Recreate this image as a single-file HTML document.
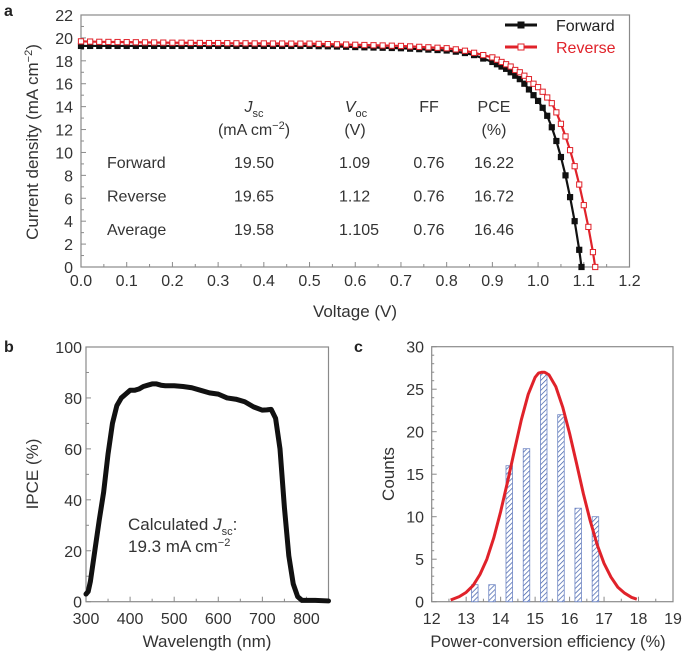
<!DOCTYPE html>
<html><head><meta charset="utf-8"><style>
body{margin:0;background:#fff;}
svg{display:block;font-family:"Liberation Sans",sans-serif;}
</style></head><body>
<svg id="fig" width="685" height="656" viewBox="0 0 685 656" xmlns="http://www.w3.org/2000/svg">
<defs>
<pattern id="hatch" patternUnits="userSpaceOnUse" width="3.5" height="3.5" patternTransform="rotate(45)">
<rect width="3.5" height="3.5" fill="#fff"/><line x1="0" y1="0" x2="0" y2="3.5" stroke="#3a5aa8" stroke-width="1.4"/>
</pattern>
</defs>
<g id="pa"></g>
<g id="pb"></g>
<g id="pc"></g>
</svg>
<script>
// Panel a data
const fwdV=[0,0.02,0.04,0.06,0.08,0.1,0.12,0.14,0.16,0.18,0.2,0.22,0.24,0.26,0.28,0.3,0.32,0.34,0.36,0.38,0.4,0.42,0.44,0.46,0.48,0.5,0.52,0.54,0.56,0.58,0.6,0.62,0.64,0.66,0.68,0.7,0.72,0.74,0.76,0.78,0.8,0.82,0.84,0.86,0.88,0.9,0.91,0.92,0.93,0.94,0.95,0.96,0.97,0.98,0.99,1.0,1.01,1.02,1.03,1.04,1.05,1.06,1.07,1.08,1.09,1.095];
const fwdJ=[19.3,19.3,19.3,19.3,19.3,19.3,19.3,19.3,19.3,19.3,19.3,19.3,19.3,19.3,19.3,19.3,19.3,19.3,19.3,19.3,19.3,19.3,19.3,19.3,19.3,19.3,19.28,19.27,19.25,19.23,19.2,19.18,19.16,19.14,19.12,19.1,19.06,19.02,18.98,18.94,18.9,18.8,18.68,18.5,18.2,17.9,17.7,17.5,17.3,17.0,16.7,16.4,16.0,15.5,15.0,14.5,13.9,13.2,12.2,11.0,9.6,8.0,6.1,4.0,1.5,0];
const revV=[0,0.02,0.04,0.06,0.08,0.1,0.12,0.14,0.16,0.18,0.2,0.22,0.24,0.26,0.28,0.3,0.32,0.34,0.36,0.38,0.4,0.42,0.44,0.46,0.48,0.5,0.52,0.54,0.56,0.58,0.6,0.62,0.64,0.66,0.68,0.7,0.72,0.74,0.76,0.78,0.8,0.82,0.84,0.86,0.88,0.9,0.91,0.92,0.93,0.94,0.95,0.96,0.97,0.98,0.99,1.0,1.01,1.02,1.03,1.04,1.05,1.06,1.07,1.08,1.09,1.1,1.11,1.12,1.125];
const revJ=[19.7,19.68,19.66,19.65,19.64,19.63,19.62,19.61,19.6,19.59,19.58,19.58,19.57,19.56,19.55,19.55,19.54,19.53,19.53,19.52,19.52,19.51,19.51,19.5,19.5,19.5,19.48,19.46,19.44,19.42,19.4,19.38,19.36,19.34,19.32,19.3,19.26,19.22,19.18,19.14,19.1,19.0,18.88,18.7,18.5,18.3,18.1,17.9,17.7,17.5,17.2,17.0,16.7,16.4,16.0,15.7,15.3,14.8,14.3,13.5,12.5,11.4,10.2,8.8,7.2,5.4,3.5,1.3,0];
const aXTicks=["0.0","0.1","0.2","0.3","0.4","0.5","0.6","0.7","0.8","0.9","1.0","1.1","1.2"];
const aYTicks=[0,2,4,6,8,10,12,14,16,18,20,22];
// Panel b data
const wl=[300,305,310,320,330,340,350,360,370,380,390,400,410,420,430,440,450,460,470,480,500,520,540,560,580,600,620,640,660,680,700,710,720,730,740,750,760,770,780,790,800,820,850];
const ipce=[3,4,8,20,32,43,58,70,77,80,81.5,83,83,83.5,84.5,85,85.5,85.5,85,84.8,84.8,84.5,84,83,82,81.5,80,79.5,78.5,76.5,75.2,75.3,75.5,72,60,37,18,7,2,0.5,0.5,0.5,0.3];
const bXTicks=[300,400,500,600,700,800];
const bYTicks=[0,20,40,60,80,100];
// Panel c data
const binCenters=[13.25,13.75,14.25,14.75,15.25,15.75,16.25,16.75];
const counts=[2,2,16,18,27,22,11,10];
const fitX=[12.55,12.8,13.0,13.2,13.4,13.6,13.8,14.0,14.2,14.4,14.6,14.8,15.0,15.1,15.2,15.27,15.4,15.6,15.8,16.0,16.2,16.4,16.6,16.8,17.0,17.2,17.4,17.6,17.8,17.95];
const fitY=[0.2,0.6,1.1,1.9,3.2,5.0,7.5,10.6,14.1,17.8,21.4,24.4,26.4,26.9,27.0,27.0,26.7,25.3,22.9,19.8,16.3,12.7,9.5,6.7,4.5,2.9,1.7,1.0,0.5,0.3];
const cXTicks=[12,13,14,15,16,17,18,19];
const cYTicks=[0,5,10,15,20,25,30];

const NS="http://www.w3.org/2000/svg";
function mk(parent,tag,attrs,text){const e=document.createElementNS(NS,tag);for(const k in attrs)e.setAttribute(k,attrs[k]);if(text!==undefined)e.textContent=text;parent.appendChild(e);return e;}
const AX="#8a8a8a", TXT="#333";

// ---------- Panel a ----------
(function(){
const g=document.getElementById('pa');
const L=81,R=629.5,T=15,B=267;
const sx=v=>L+(v-0)/1.2*(R-L), sy=j=>B-(j/22)*(B-T);
const f=mk(g,'rect',{x:L,y:T,width:R-L,height:B-T,fill:'none',stroke:AX,'stroke-width':1.2});


for(let i=0;i<=24;i++){const x=sx(i*0.05);const len=i%2==0?5:3;
 mk(g,'line',{x1:x,y1:B,x2:x,y2:B-len,stroke:AX,'stroke-width':1});}
for(let i=0;i<=22;i++){const y=sy(i);const len=i%2==0?5:3;
 mk(g,'line',{x1:L,y1:y,x2:L+len,y2:y,stroke:AX,'stroke-width':1});}
aXTicks.forEach(t=>{const e=mk(g,'text',{x:sx(parseFloat(t)),y:286,'text-anchor':'middle','font-size':16,fill:TXT},t);
 
 });
aYTicks.forEach(t=>{const e=mk(g,'text',{x:73,y:sy(t)+6,'text-anchor':'end','font-size':16,fill:TXT},String(t));
 
 });
let e=mk(g,'text',{x:355,y:317,'text-anchor':'middle','font-size':17,fill:TXT},'Voltage (V)');


e=mk(g,'text',{transform:'translate(38,142) rotate(-90)','text-anchor':'middle','font-size':17,fill:TXT});
e.innerHTML='Current density (mA cm<tspan dy="-6" font-size="11">−2</tspan><tspan dy="6">)</tspan>';


e=mk(g,'text',{x:4,y:16,'font-size':16,'font-weight':'bold',fill:'#222'},'a');


function series(V,J,col,filled,name){
 const s=mk(g,'g',{});
 
 
 mk(s,'polyline',{points:V.map((v,i)=>sx(v)+','+sy(J[i])).join(' '),fill:'none',stroke:col,'stroke-width':2.2});
 V.forEach((v,i)=>{const m=mk(s,'rect',{x:sx(v)-2.6,y:sy(J[i])-2.6,width:5.2,height:5.2,fill:filled?col:'#fff',stroke:col,'stroke-width':1});
  
  });
}
series(fwdV,fwdJ,'#111',true,'forward-series');
series(revV,revJ,'#e0222a',false,'reverse-series');
function leg(y,col,filled,label,name){const lg=mk(g,'g',{});
 
 
 mk(lg,'line',{x1:505,y1:y,x2:537,y2:y,stroke:col,'stroke-width':3});
 mk(lg,'rect',{x:518,y:y-3,width:6,height:6,fill:filled?col:'#fff',stroke:col,'stroke-width':1});
 mk(lg,'text',{x:556,y:y+6,'font-size':16,fill:filled?'#222':col},label);}
leg(25,'#111',true,'Forward','legend-forward');
leg(47,'#e0222a',false,'Reverse','legend-reverse');
const tb=mk(g,'g',{'font-size':16,fill:TXT});


let h=mk(tb,'text',{x:254,y:112,'text-anchor':'middle'});h.innerHTML='<tspan font-style="italic">J</tspan><tspan font-size="11" dy="5">sc</tspan>';
mk(tb,'text',{x:254,y:135,'text-anchor':'middle'}).innerHTML='(mA cm<tspan dy="-6" font-size="11">−2</tspan><tspan dy="6">)</tspan>';
h=mk(tb,'text',{x:356,y:112,'text-anchor':'middle'});h.innerHTML='<tspan font-style="italic">V</tspan><tspan font-size="11" dy="5">oc</tspan>';
mk(tb,'text',{x:355,y:135,'text-anchor':'middle'},'(V)');
mk(tb,'text',{x:429,y:112,'text-anchor':'middle'},'FF');
mk(tb,'text',{x:494,y:112,'text-anchor':'middle'},'PCE');
mk(tb,'text',{x:494,y:135,'text-anchor':'middle'},'(%)');
const rows=[["Forward","19.50","1.09","0.76","16.22"],["Reverse","19.65","1.12","0.76","16.72"],["Average","19.58","1.105","0.76","16.46"]];
rows.forEach((r,i)=>{const y=168+i*33.5;
 mk(tb,'text',{x:107,y:y},r[0]);
 mk(tb,'text',{x:254,y:y,'text-anchor':'middle'},r[1]);
 mk(tb,'text',{x:339,y:y},r[2]);
 mk(tb,'text',{x:429,y:y,'text-anchor':'middle'},r[3]);
 mk(tb,'text',{x:494,y:y,'text-anchor':'middle'},r[4]);});
})();

// ---------- Panel b ----------
(function(){
const g=document.getElementById('pb');
const L=86,R=328.5,T=347,B=601.7;
const sx=w=>L+(w-300)/550*(R-L), sy=v=>B-v/100*(B-T);
const f=mk(g,'rect',{x:L,y:T,width:R-L,height:B-T,fill:'none',stroke:AX,'stroke-width':1.2});


for(let w=300;w<=850;w+=50){mk(g,'line',{x1:sx(w),y1:B,x2:sx(w),y2:B-(w%100==0?5:3),stroke:AX});}
for(let v=0;v<=100;v+=10){mk(g,'line',{x1:L,y1:sy(v),x2:L+(v%20==0?5:3),y2:sy(v),stroke:AX});}
bXTicks.forEach(t=>{const e=mk(g,'text',{x:sx(t),y:624,'text-anchor':'middle','font-size':16,fill:TXT},String(t));
 
 });
bYTicks.forEach(t=>{const e=mk(g,'text',{x:82,y:sy(t)+6,'text-anchor':'end','font-size':16,fill:TXT},String(t));
 
 });
let e=mk(g,'text',{x:207,y:647,'text-anchor':'middle','font-size':17,fill:TXT},'Wavelength (nm)');


e=mk(g,'text',{transform:'translate(38,474) rotate(-90)','text-anchor':'middle','font-size':17,fill:TXT},'IPCE (%)');


e=mk(g,'text',{x:4,y:352,'font-size':16,'font-weight':'bold',fill:'#222'},'b');


e=mk(g,'polyline',{points:wl.map((w,i)=>sx(w)+','+sy(ipce[i])).join(' '),fill:'none',stroke:'#111','stroke-width':5,'stroke-linejoin':'round','stroke-linecap':'round'});


e=mk(g,'text',{x:128,y:530,'font-size':17,fill:TXT});
e.innerHTML='Calculated <tspan font-style="italic">J</tspan><tspan font-size="11" dy="5">sc</tspan><tspan dy="-5">:</tspan>';


e=mk(g,'text',{x:128,y:552,'font-size':17,fill:TXT});
e.innerHTML='19.3 mA cm<tspan dy="-6" font-size="11">−2</tspan>';


})();

// ---------- Panel c ----------
(function(){
const g=document.getElementById('pc');
const L=431.7,R=673,T=346.7,B=601.7;
const sx=v=>L+(v-12)/7*(R-L), sy=v=>B-v/30*(B-T);
const f=mk(g,'rect',{x:L,y:T,width:R-L,height:B-T,fill:'none',stroke:AX,'stroke-width':1.2});


for(let i=0;i<=14;i++){const v=12+i*0.5;mk(g,'line',{x1:sx(v),y1:B,x2:sx(v),y2:B-(i%2==0?5:3),stroke:AX});}
for(let v=0;v<=30;v++){mk(g,'line',{x1:L,y1:sy(v),x2:L+(v%5==0?5:2.5),y2:sy(v),stroke:AX});}
cXTicks.forEach(t=>{const e=mk(g,'text',{x:sx(t),y:624,'text-anchor':'middle','font-size':16,fill:TXT},String(t));
 
 });
cYTicks.forEach(t=>{const e=mk(g,'text',{x:424,y:sy(t)+6,'text-anchor':'end','font-size':16,fill:TXT},String(t));
 
 });
let e=mk(g,'text',{x:548,y:647,'text-anchor':'middle','font-size':16.5,fill:TXT},'Power-conversion efficiency (%)');


e=mk(g,'text',{transform:'translate(394,474) rotate(-90)','text-anchor':'middle','font-size':17,fill:TXT},'Counts');


e=mk(g,'text',{x:354,y:352,'font-size':16,'font-weight':'bold',fill:'#222'},'c');


const bw=(R-L)/7*0.19;
binCenters.forEach((c,i)=>{const b=mk(g,'rect',{x:sx(c)-bw/2,y:sy(counts[i]),width:bw,height:B-sy(counts[i]),fill:'url(#hatch)',stroke:'#6f86c4','stroke-width':0.8});
 
 });
e=mk(g,'polyline',{points:fitX.map((x,i)=>sx(x)+','+sy(fitY[i])).join(' '),fill:'none',stroke:'#e0222a','stroke-width':3,'stroke-linejoin':'round'});


})();
</script>
</body></html>
